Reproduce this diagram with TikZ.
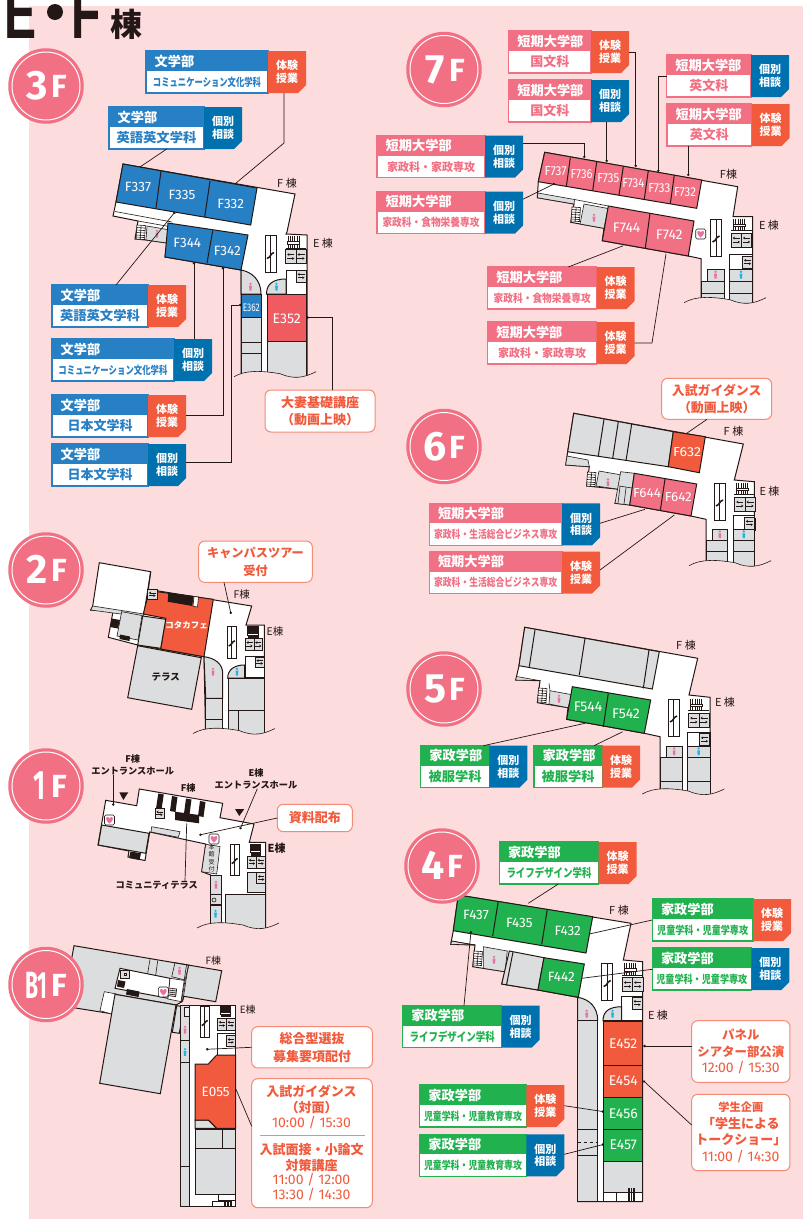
\documentclass[tikz,border=0pt]{standalone}
\usepackage{fontspec}
\usepackage{graphicx}
\usetikzlibrary{arrows.meta}
\setmainfont{Noto Sans CJK JP}
\newfontfamily\din{Fira Sans}
\newfontfamily\tfont{Liberation Sans}
\definecolor{bg}{HTML}{FDDCDE}
\definecolor{ink}{HTML}{231815}
\definecolor{bandB}{HTML}{2880C4}
\definecolor{bandP}{HTML}{F27084}
\definecolor{bandG}{HTML}{22B14F}
\definecolor{tagO}{HTML}{F15A3C}
\definecolor{tagB}{HTML}{0071AF}
\definecolor{rred}{HTML}{EF5B60}
\definecolor{gr}{HTML}{DCDDDE}
\definecolor{wcP}{HTML}{EC6FA2}
\definecolor{wcB}{HTML}{1FB3E6}
\definecolor{cbord}{HTML}{F58A76}
\tikzset{
  wall/.style={draw=ink,line width=1pt,line join=miter},
  thinw/.style={draw=ink,line width=.6pt},
  grayw/.style={wall,fill=gr},
  whitew/.style={wall,fill=white},
  conn/.style={draw=ink,line width=.7pt,-{Circle[length=2.4pt]}},
  connp/.style={draw=ink,line width=.7pt},
  callout/.style={draw=cbord,line width=1pt,fill=white,rounded corners=6pt,inner sep=0pt,outer sep=0pt,text=tagO,align=center},
  roomt/.style={text=white,inner sep=0pt,outer sep=0pt},
  bldg/.style={text=ink,inner sep=0pt,outer sep=0pt,font=\fontsize{11}{11}\selectfont},
  bldgb/.style={text=ink,inner sep=0pt,outer sep=0pt,font=\fontsize{9.2}{12}\selectfont\bfseries,align=center},
  ctext/.style={text=tagO,inner sep=0pt,outer sep=0pt,font=\fontsize{13}{13}\selectfont\bfseries},
  ctime/.style={text=tagO,inner sep=0pt,outer sep=0pt,font=\din\fontsize{14}{14}\selectfont},
}
\newcommand{\Ta}{\def\tagcol{tagO}\def\tagA{体験}\def\tagBB{授業}}
\newcommand{\Ko}{\def\tagcol{tagB}\def\tagA{個別}\def\tagBB{相談}}
\newcommand{\Sb}[3]{\resizebox{#1pt}{\height}{\fontsize{#2}{#2}\selectfont\bfseries #3}}
% name x y xtag xend band title sub
\newcommand{\Lab}[8]{%
  \fill[white] (#2,#3) rectangle (#4,{#3+42});
  \draw[#6,line width=1.2pt] (#2,#3) rectangle (#4,{#3+42});
  \fill[#6] (#2,#3) rectangle (#4,{#3+20});
  \fill[\tagcol] (#4,#3) -- (#5,#3) -- (#5,{#3+34}) -- ({#5-8},{#3+42}) -- (#4,{#3+42}) -- cycle;
  \node[anchor=west,inner sep=0pt,text=white,font=\fontsize{13.2}{13.2}\selectfont\bfseries] (#1t) at ({#2+8.5},{#3+10}) {#7};
  \node[inner sep=0pt,text=#6] (#1s) at ({(#2+#4)/2},{#3+31}) {#8};
  \node[inner sep=0pt,text=white,align=center,font=\fontsize{11}{12.7}\selectfont\bfseries] (#1k) at ({(#4+#5)/2},{#3+21}) {\tagA\\\tagBB};
  \node[inner sep=0pt,outer sep=0pt,minimum width={(#5-#2)*1pt},minimum height=42pt] (#1) at ({(#2+#5)/2},{#3+21}) {};
}
\newcommand{\Pers}[3]{\fill[#3] (#1,{#2-3.2}) circle (1.3);
  \fill[#3] ({#1-1.4},{#2-1.4}) -- ({#1+1.4},{#2-1.4}) -- ({#1+1},{#2+3.5}) -- ({#1-1},{#2+3.5}) -- cycle;}
\newcommand{\EV}[4]{\draw[thinw,fill=gr] (#1,#2) rectangle ({#1+#3},{#2+#4});
  \draw[line width=.8pt,ink,-{Stealth[length=2.2pt,width=2.8pt]}] ({#1+#3*.85},{#2+#4*.36}) -- ({#1+#3*.15},{#2+#4*.36});
  \draw[line width=.8pt,ink,-{Stealth[length=2.2pt,width=2.8pt]}] ({#1+#3*.15},{#2+#4*.64}) -- ({#1+#3*.85},{#2+#4*.64});}
\newcommand{\Core}[3]{\begin{scope}[shift={(#1,#2)},scale=#3]
  \draw[thinw,fill=white] (0,0) rectangle (11,37);
  \draw[thinw] (5.5,0) -- (5.5,37);
  \draw[ink,line width=1.6pt] (2,23) -- (4.5,21.5) -- (6.5,18.5) -- (9,17);
  \EV{20.7}{14}{10.2}{14}\EV{30.9}{14}{10.2}{14}\EV{31}{35}{10}{12}
  \end{scope}}
\newcommand{\Stair}[2]{\begin{scope}[shift={(#1,#2)}]
  \foreach \i in {0,2.2,4.4,6.6,8.8,11}{\draw[thinw] ({23+\i},.5) -- ({23+\i},12);}
  \draw[thinw,fill=white] (22.5,6) rectangle (34.5,8.5);
  \draw[thinw] (20.7,12.5) -- (41,12.5);
  \end{scope}}
\newcommand{\Hatch}[2]{\begin{scope}[shift={(#1,#2)},rotate=-4]
  \draw[thinw,fill=white] (0,0) rectangle (8.5,14);
  \foreach \i in {2.5,5,7.5,10,12}{\draw[thinw] (0,\i) -- (8.5,\i);}
  \draw[thinw] (4.2,0) -- (4.2,14);
  \end{scope}}
\newcommand{\Hrt}[2]{\begin{scope}[shift={(#1,#2)}]
  \draw[thinw,fill=white,rounded corners=1.5pt] (0,0) rectangle (10,10);
  \fill[wcP] (5,8.5) .. controls (1,5.5) and (.8,2) .. (3,2) .. controls (4,2) and (5,3) .. (5,3.5) .. controls (5,3) and (6,2) .. (7,2) .. controls (9.2,2) and (9,5.5) .. (5,8.5) -- cycle;
  \end{scope}}
\newcommand{\Wav}[3]{\begin{scope}[shift={(#1,#2)},xscale=#3]
  \fill[bg] (0,0) .. controls (12,-7) and (28,-6) .. (46,-3) .. controls (60,3) and (70,1) .. (82,-5) -- (90,-5) -- (90,12) -- (-5,12) -- (-5,0) -- cycle;
  \draw[thinw] (0,0) .. controls (12,-7) and (28,-6) .. (46,-3) .. controls (60,3) and (70,1) .. (82,-5);
  \end{scope}}
% a b c d pinkTop pinkBot evTop row bottom
\newcommand{\LowE}[9]{%
  \pgfmathsetmacro{\pxa}{(#1+6+#2)/2}\pgfmathsetmacro{\pxb}{(#3+#4)/2}\pgfmathsetmacro{\pym}{(#5+#6)/2}%
  \draw[whitew] (#3,#7) rectangle (#4,#6);
  \draw[grayw] ({#1+6},#5) rectangle (#2,#6);
  \Pers{\pxa}{\pym}{wcP}
  \draw[grayw] (#1,#6) rectangle (#2,#8);
  \draw[grayw] (#1,#8) rectangle (#2,#9);
  \draw[grayw] (#3,#5) rectangle (#4,#6);
  \Pers{\pxb}{\pym}{wcB}
  \draw[grayw] (#3,#6) rectangle (#4,#8);
  \draw[grayw] (#3,#8) rectangle (#4,#9);
}
\newcommand{\Badge}[6]{%
  \node[circle,fill=bandP,minimum size=75.5pt,inner sep=0pt] (#1) at (#2,#3) {};
  \draw[white,line width=1pt] (#2,#3) circle (34);
  \node[anchor=base,inner sep=0pt,text=white,font=\din\bfseries\fontsize{#6}{#6}\selectfont] (#1d) at ({#2+#5},{#3+13.5}) {#4};
  \node[anchor=base,inner sep=0pt,text=white,font=\din\bfseries\fontsize{32}{32}\selectfont] (#1f) at ({#2+13},{#3+11.5}) {F};
}
\begin{document}
\begin{tikzpicture}[x=1pt,y=-1pt]
\useasboundingbox (0,0) rectangle (803,1219);
\fill[white] (0,0) rectangle (803,1219);
\fill[bg] (29,6) rectangle (803,1219);
% title
\node[anchor=base west,inner sep=0pt,text=ink] (ttlE) at (4.5,38) {\scalebox{.64}[1]{\tfont\bfseries\fontsize{75}{75}\selectfont E}};
\node[anchor=base west,inner sep=0pt,text=ink] (ttlF) at (71,38) {\scalebox{.64}[1]{\tfont\bfseries\fontsize{75}{75}\selectfont F}};
\fill[ink] (55,12) circle (8);
\node[anchor=base,inner sep=0pt,text=ink,font=\fontsize{32}{32}\selectfont\bfseries] (ttlT) at (126,36) {棟};

%% ===== 3F =====
\draw[whitew] (123,164) -- (295,194) -- (287,232) -- (286,234) -- (307,235) -- (307,382) -- (241,382) -- (241,270) -- (165,257) -- (167,243) -- (146,240) -- (135,239) -- (138,221) -- (113,216) -- (116,202) -- cycle;
\draw[thinw] (115,211.5) -- (138,215.7) -- (172,222);
\draw[thinw] (138,221) -- (172,227);
\draw[thinw,fill=gr] (147,226) -- (170,230) -- (167,243) -- (146,240) -- cycle;
\Pers{157}{234}{wcP}
\Hatch{137}{225}
\draw[wall,fill=bandB] (123,164) -- (257,188) -- (250.7,225) -- (116,202) -- cycle;
\draw[wall] (161,171) -- (156,208) (210,181) -- (204.7,217);
\draw[wall,fill=bandB] (168,223) -- (248,235) -- (241,270) -- (165,257) -- cycle;
\draw[wall] (212.7,230.7) -- (207,263);
\Core{265}{235.5}{1}\Stair{265}{235.5}
\draw[thinw,fill=white] (286,270) rectangle (306,294);
\EV{296}{270}{10}{12}
\draw[grayw] (241,270) .. controls (252,272) and (261,280) .. (261,294) -- (241,294) -- cycle;
\Pers{250.5}{287}{wcP}
\draw[grayw] (266.5,294) .. controls (266.5,284) and (273,279) .. (286,279) -- (286,294) -- cycle;
\Pers{276.5}{287}{wcB}
\draw[wall,fill=bandB] (241.5,294.5) rectangle (261,317);
\draw[grayw] (241.5,317) rectangle (261,342);
\draw[grayw] (241.5,342) rectangle (261,353);
\draw[grayw] (241.5,353) rectangle (261,382);
\draw[wall,fill=rred] (267,294) rectangle (306.5,341);
\draw[grayw] (267,341) rectangle (306.5,382);
\Wav{234}{376.7}{1}
\node[bldg] (b3f) at (287,183) {F 棟};
\node[bldg] (b3e) at (323,243) {E 棟};
\node[roomt,font=\din\fontsize{13.5}{13.5}\selectfont] (r337) at (138,186.7) {F337};
\node[roomt,font=\din\fontsize{13.5}{13.5}\selectfont] (r335) at (182,195) {F335};
\node[roomt,font=\din\fontsize{13.5}{13.5}\selectfont] (r332) at (230.7,204) {F332};
\node[roomt,font=\din\fontsize{13.5}{13.5}\selectfont] (r344) at (187.3,243.3) {F344};
\node[roomt,font=\din\fontsize{13.5}{13.5}\selectfont] (r342) at (227.3,250.7) {F342};
\node[roomt] (r362) at (251.3,307.7) {\resizebox{17pt}{\height}{\din\fontsize{11}{11}\selectfont E362}};
\node[roomt,font=\din\fontsize{14}{14}\selectfont] (r352) at (286.7,318.3) {E352};
\Ta\Lab{la}{146}{51}{268}{306}{bandB}{文学部}{\Sb{108}{11}{コミュニケーション文化学科}}
\Ko\Lab{lb}{109}{107}{204}{242}{bandB}{文学部}{\Sb{80}{13}{英語英文学科}}
\Ta\Lab{lc}{52}{285}{148}{186}{bandB}{文学部}{\Sb{80}{13}{英語英文学科}}
\Ko\Lab{ld}{52}{339}{174}{212}{bandB}{文学部}{\Sb{109}{11}{コミュニケーション文化学科}}
\Ta\Lab{le}{52}{395}{148}{186}{bandB}{文学部}{\Sb{65}{13}{日本文学科}}
\Ko\Lab{lf}{52}{444}{148}{186}{bandB}{文学部}{\Sb{65}{13}{日本文学科}}
\node[callout,minimum width=110pt,minimum height=42pt,font=\fontsize{13}{17.7}\selectfont\bfseries] (c352) at (320,411) {大妻基礎講座\\（動画上映）};
\coordinate (p3a) at (235.5,183.5); \coordinate (k3a) at (284,143);
\draw[connp] ([xshift=138pt]la.south west) -- (k3a) -- (p3a);
\coordinate (p3b) at (140,167);
\draw[connp] ([xshift=57.7pt]lb.south west) -- (p3b);
\coordinate (p3c) at (175,212);
\draw[conn] ([xshift=64pt]lc.north west) -- (p3c);
\coordinate (p3d) at (194,262);
\draw[conn] ([xshift=142pt]ld.north west) -- (p3d);
\coordinate (p3e) at (223,267);
\draw[conn] ([yshift=-20pt]le.north east) -| (p3e);
\coordinate (k3f) at (231,305); \coordinate (p3f) at (241.5,305);
\draw[conn] ([yshift=-18pt]lf.north east) -| (k3f) -- (p3f);
\coordinate (p352) at (306.5,317.5);
\draw[conn] ([xshift=12pt]c352.north) |- (p352);
\Badge{bd3}{46}{86}{3}{-9}{41}

%% ===== 7F =====
\draw[whitew] (544.7,152.3) -- (737.7,186.7) -- (733,216.7) -- (752.7,216.7) -- (752.7,308) -- (701,308) -- (701,258.7) -- (688.3,256) -- (602.3,240.7) -- (604,228.3) -- (570.7,222.3) -- (574,204) -- (537.3,197.7) -- (538.3,181.7) -- cycle;
\draw[thinw,fill=gr] (538,193) -- (574.5,199.5) -- (574,204) -- (537.3,197.7) -- cycle;
\draw[thinw] (574.5,199.5) -- (608.3,206);
\draw[thinw,fill=gr] (584,204) -- (608,208.5) -- (604,228.3) -- (580,224) -- cycle;
\Pers{594}{218}{wcP}
\Hatch{572}{207}
\draw[wall,fill=bandP] (544.7,152.3) -- (701.7,180) -- (696.7,208.3) -- (538.3,181.7) -- cycle;
\draw[wall] (570.3,157.7) -- (566.3,186.7) (596.7,161.7) -- (592.7,190.7) (623.3,166.7) -- (619,195) (648.3,170.7) -- (644.3,199) (674.3,175) -- (670.3,203.7);
\draw[wall,fill=bandP] (608.3,206) -- (694,221) -- (688.3,256) -- (602.3,240.7) -- cycle;
\draw[wall] (650,213.3) -- (645.3,248.3);
\Core{710.5}{219}{1}\Stair{710.5}{218}
\Hrt{695.7}{229}
\LowE{701}{724}{729.3}{752.7}{269}{281}{254.3}{293}{308}
\EV{742.5}{256}{10}{12}
\Wav{684}{302.7}{1}
\node[bldg] (b7f) at (728.5,174) {F棟};
\node[bldg] (b7e) at (769,225) {E 棟};
\foreach \nm/\xx/\yy in {F737/555.7/170.7,F736/581.7/174,F735/608.3/177.7,F734/633.3/183.3,F733/659.3/187.7,F732/685/192}{
  \node[roomt] (r\nm) at (\xx,\yy) {\resizebox{22pt}{\height}{\din\fontsize{13}{13}\selectfont\nm}};}
\node[roomt,font=\din\fontsize{14}{14}\selectfont] (rF744) at (626.7,227.3) {F744};
\node[roomt,font=\din\fontsize{14}{14}\selectfont] (rF742) at (669.3,235) {F742};
\Ta\Lab{l7a}{508.7}{31}{591}{629}{bandP}{短期大学部}{\Sb{39}{13}{国文科}}
\Ko\Lab{l7b}{508.7}{80}{591}{629}{bandP}{短期大学部}{\Sb{39}{13}{国文科}}
\Ko\Lab{l7c}{666.7}{55}{751}{789}{bandP}{短期大学部}{\Sb{39}{13}{英文科}}
\Ta\Lab{l7d}{667}{104}{751.7}{789.5}{bandP}{短期大学部}{\Sb{39}{13}{英文科}}
\Ko\Lab{l7e}{377}{135.7}{485}{523}{bandP}{短期大学部}{\Sb{88}{11.5}{家政科・家政専攻}}
\Ko\Lab{l7f}{377}{191.7}{485}{523}{bandP}{短期大学部}{\Sb{97}{11}{家政科・食物栄養専攻}}
\Ta\Lab{l7g}{487.7}{267}{596.7}{634.7}{bandP}{短期大学部}{\Sb{97}{11}{家政科・食物栄養専攻}}
\Ta\Lab{l7h}{487.7}{322}{596.7}{634.7}{bandP}{短期大学部}{\Sb{88}{11.5}{家政科・家政専攻}}
\coordinate (p7a) at (635.7,167);
\draw[conn] ([yshift=-21pt]l7a.north east) -| (p7a);
\coordinate (p7b) at (606.7,162);
\draw[conn] ([xshift=98pt]l7b.south west) -- (p7b);
\coordinate (p7c) at (584.3,158);
\draw[conn] ([yshift=-7.5pt]l7e.north east) -| (p7c);
\coordinate (p7d) at (555,183.5);
\draw[conn] ([yshift=-7.5pt]l7f.north east) -- (p7d);
\coordinate (p7e) at (658.3,172);
\draw[conn] ([yshift=-21pt]l7c.north west) -| (p7e);
\coordinate (p7f) at (688.3,176);
\draw[conn] ([xshift=21.3pt]l7d.south west) -- (p7f);
\coordinate (p7g) at (623.3,245.7);
\draw[connp] ([xshift=80.6pt]l7g.north west) -- (p7g);
\coordinate (k7h) at (652,343); \coordinate (p7h) at (666,254);
\draw[connp] ([yshift=-21pt]l7h.north east) -- (k7h) -- (p7h);
\Badge{bd7}{444}{69.5}{7}{-9}{41}

%% ===== 6F =====
\draw[whitew] (573.7,413.3) -- (743.3,444) -- (734.3,480) -- (754.3,481.7) -- (754.3,572) -- (706,572) -- (706,519.3) -- (691,516) -- (629.7,505) -- (615,503.3) -- (619.3,489.3) -- (586.7,486) -- (589.3,466.7) -- (565.7,465) -- (567.7,451.7) -- cycle;
\draw[thinw,fill=gr] (567,456) -- (588,460) -- (589.3,466.7) -- (565.7,465) -- cycle;
\draw[grayw] (573.7,413.3) -- (673.3,431.7) -- (668.3,466.7) -- (567.7,451.7) -- cycle;
\draw[wall] (604,419.3) -- (598.3,456) (618.3,421.7) -- (612.7,458.3) (631.7,424) -- (626,460.7);
\draw[wall,fill=tagO] (673.3,431.7) -- (705.3,436.7) -- (699.3,472.7) -- (668.3,466.7) -- cycle;
\draw[thinw,fill=gr] (599,471) -- (621.7,475) -- (619.3,489.3) -- (596,486) -- cycle;
\Pers{608}{482.7}{wcP}
\Hatch{587.5}{472}
\draw[thinw,fill=gr] (620.7,471.7) -- (634.3,473.3) -- (629.7,505) -- (615,503.3) -- cycle;
\draw[thinw] (619,486) -- (632,488) (618,503) -- (620,487) (624,504) -- (626,488);
\draw[wall,fill=bandP] (634.3,473.3) -- (696.7,484) -- (691,516) -- (629.7,505) -- cycle;
\draw[wall] (665,479) -- (660.3,510.7);
\Core{714}{483}{1}\Stair{713.5}{482}
\LowE{706}{727.7}{733.3}{754.3}{529.3}{540}{515.7}{551.7}{572}
\EV{744.3}{517}{10}{12}
\Wav{689}{565.7}{1}
\node[bldg] (b6f) at (733.5,431.5) {F 棟};
\node[bldg] (b6e) at (769.5,491) {E 棟};
\node[roomt] (rF632) at (687,452.3) {\resizebox{28pt}{\height}{\din\fontsize{13}{13}\selectfont F632}};
\node[roomt] (rF644) at (647,493.3) {\resizebox{28pt}{\height}{\din\fontsize{13}{13}\selectfont F644}};
\node[roomt] (rF642) at (678.3,497.3) {\resizebox{27pt}{\height}{\din\fontsize{13}{13}\selectfont F642}};
\Ko\Lab{l6a}{429.3}{503.3}{562}{600}{bandP}{短期大学部}{\Sb{123}{11}{家政科・生活総合ビジネス専攻}}
\Ta\Lab{l6b}{429.3}{551.7}{562}{600}{bandP}{短期大学部}{\Sb{123}{11}{家政科・生活総合ビジネス専攻}}
\node[callout,minimum width=110pt,minimum height=41pt,font=\fontsize{12.9}{17.3}\selectfont\bfseries] (c6) at (716.7,398.8) {入試ガイダンス\\（動画上映）};
\coordinate (p6c) at (686.7,433.3);
\draw[connp] ([xshift=45.3pt]c6.south west) -- (p6c);
\coordinate (p6a) at (645,509.3);
\draw[connp] ([yshift=-20pt]l6a.north east) -- (p6a);
\coordinate (p6b) at (674.3,515);
\draw[connp] ([yshift=-18.3pt]l6b.north east) -- (p6b);
\Badge{bd6}{444}{446.5}{6}{-9}{41}

%% ===== 5F =====
\draw[whitew] (524.7,627.3) -- (697.7,658.3) -- (689,695) -- (710,697.3) -- (710,801) -- (660,801) -- (660,736.7) -- (644.3,733.3) -- (566.7,719.3) -- (568,707.7) -- (537.3,702.7) -- (540,680.7) -- (515.7,680) -- (519,665.7) -- cycle;
\draw[thinw,fill=gr] (516.5,676.5) -- (539,680.5) -- (540,680.7) -- (515.7,680) -- cycle;
\draw[grayw] (524.7,627.3) -- (659.3,651.7) -- (652.3,689) -- (519,665.7) -- cycle;
\draw[wall] (535,630) -- (529.3,666.7) (585,638.3) -- (579.3,675) (649,650) -- (643.3,688.3);
\draw[thinw,fill=gr] (550,690.7) -- (572,694.7) -- (568,707.7) -- (549,704) -- cycle;
\draw[thinw] (549,683.3) -- (550,690.7);
\Pers{559}{699}{wcP}
\Hatch{538.5}{688}
\draw[wall,fill=bandG] (572.3,686.7) -- (650.7,700) -- (644.3,733.3) -- (566.7,719.3) -- cycle;
\draw[wall] (608.3,693.3) -- (603.3,726.7);
\Core{668}{699}{1}\Stair{667.5}{698}
\LowE{660}{682.3}{687.3}{710}{746}{757.3}{732.3}{781}{801}
\EV{699.5}{733.5}{10}{12}
\Wav{642.3}{794}{1}
\node[bldg] (b5f) at (686,645.5) {F 棟};
\node[bldg] (b5e) at (725,702) {E 棟};
\node[roomt,font=\din\fontsize{14}{14}\selectfont] (rF544) at (588,706.7) {F544};
\node[roomt,font=\din\fontsize{14}{14}\selectfont] (rF542) at (626,713.3) {F542};
\Ko\Lab{l5a}{420.7}{745.7}{489.3}{527.3}{bandG}{家政学部}{\Sb{53}{13}{被服学科}}
\Ta\Lab{l5b}{534}{745.7}{602.3}{640}{bandG}{家政学部}{\Sb{53}{13}{被服学科}}
\coordinate (p5a) at (585,723.3);
\draw[connp] ([xshift=62.6pt]l5a.north west) -- (p5a);
\coordinate (p5b) at (622.7,731.7);
\draw[connp] ([xshift=60pt]l5b.north west) -- (p5b);
\Badge{bd5}{444}{689}{5}{-9}{41}

%% ===== 4F =====
\draw[whitew] (458.3,895) -- (631,923.3) -- (623.3,960) -- (642.7,961.7) -- (642.7,1201.7) -- (577.7,1201.7) -- (577.7,997.3) -- (538,990) -- (501.7,984) -- (505,971.7) -- (472.7,966.7) -- (475,945) -- (450.7,944.3) -- (453.3,930.7) -- cycle;
\draw[thinw,fill=gr] (452,941) -- (475,945) -- (450.7,944.3) -- cycle;
\draw[thinw] (451.5,941) -- (475,945);
\draw[thinw,fill=gr] (483.3,946.7) -- (507.3,951) -- (505,971.7) -- (483.3,968.3) -- cycle;
\Pers{494}{960}{wcP}
\Hatch{474}{951}
\draw[grayw] (509.3,951) -- (544,957.7) -- (538,990) -- (501.7,984) -- cycle;
\draw[wall] (513,952) -- (506.5,985);
\draw[wall,fill=bandG] (458.3,895) -- (592.7,916.7) -- (586,953) -- (453.3,930.7) -- cycle;
\draw[wall] (498.3,901) -- (492.7,936) (547.3,909.3) -- (541.7,944.3);
\draw[wall,fill=bandG] (544,957.7) -- (584.3,964) -- (578.3,997.3) -- (538,990) -- cycle;
\Core{601.7}{963.5}{1}\Stair{601.5}{962.5}
\draw[thinw,fill=white] (621.7,996) rectangle (642.7,1020.5);
\EV{632}{997}{10}{12}
\draw[grayw] (577.7,997.3) .. controls (589,999) and (597.7,1007) .. (597.7,1020.5) -- (577.7,1020.5) -- cycle;
\Pers{586.7}{1014}{wcP}
\draw[grayw] (603,1020.5) .. controls (603,1011) and (610,1006.7) .. (621.7,1006.7) -- (621.7,1020.5) -- cycle;
\Pers{612.5}{1014}{wcB}
\draw[grayw] (577.7,1020.5) rectangle (597.7,1129);
\draw[grayw] (577.7,1129) rectangle (597.7,1155);
\draw[thinw,dashed] (577.7,1142) -- (597.7,1142);
\draw[grayw] (577.7,1155) rectangle (597.7,1201.7);
\draw[wall,fill=tagO] (603,1021) rectangle (642.7,1065.7);
\draw[wall,fill=tagO] (603,1065.7) rectangle (642.7,1097.7);
\draw[wall,fill=bandG] (603,1097.7) rectangle (642.7,1129.3);
\draw[wall,fill=bandG] (603,1129.3) rectangle (642.7,1161);
\draw[grayw] (603,1161) rectangle (642.7,1192);
\draw[wall] (603,1192) rectangle (642.7,1201.7);
\draw[wall] (616,1192) -- (616,1201.7);
\foreach \i in {0,1.6,3.2,4.8,6.4}{\draw[thinw] ({628+\i},1188) -- ({628+\i},1201);}
\node[bldg] (b4f) at (619,910.5) {F 棟};
\node[bldg] (b4e) at (658,1015.7) {E 棟};
\node[roomt,font=\din\fontsize{13.5}{13.5}\selectfont] (rF437) at (476,915) {F437};
\node[roomt,font=\din\fontsize{13.5}{13.5}\selectfont] (rF435) at (519.3,923) {F435};
\node[roomt,font=\din\fontsize{13.5}{13.5}\selectfont] (rF432) at (567.7,931) {F432};
\node[roomt,font=\din\fontsize{13.5}{13.5}\selectfont] (rF442) at (561.3,977.3) {F442};
\node[roomt,font=\din\fontsize{14}{14}\selectfont] (rE452) at (623.3,1043.3) {E452};
\node[roomt,font=\din\fontsize{14}{14}\selectfont] (rE454) at (623.3,1081) {E454};
\node[roomt,font=\din\fontsize{14}{14}\selectfont] (rE456) at (623.3,1113.3) {E456};
\node[roomt,font=\din\fontsize{14}{14}\selectfont] (rE457) at (623.3,1145) {E457};
\Ta\Lab{l4a}{499.3}{842}{598.7}{636.7}{bandG}{家政学部}{\Sb{85}{12}{ライフデザイン学科}}
\Ta\Lab{l4b}{652.3}{899}{753}{791}{bandG}{家政学部}{\Sb{91}{11}{児童学科・児童学専攻}}
\Ko\Lab{l4c}{652.3}{948}{751.3}{789.3}{bandG}{家政学部}{\Sb{91}{11}{児童学科・児童学専攻}}
\Ko\Lab{l4d}{402.7}{1005.7}{501.7}{539.7}{bandG}{家政学部}{\Sb{85}{12}{ライフデザイン学科}}
\Ta\Lab{l4e}{419.7}{1085}{526.3}{564.3}{bandG}{家政学部}{\Sb{98}{11}{児童学科・児童教育専攻}}
\Ko\Lab{l4f}{419.7}{1134.3}{526.3}{564.3}{bandG}{家政学部}{\Sb{98}{11}{児童学科・児童教育専攻}}
\node[callout,minimum width=98.3pt,minimum height=61.6pt,font=\fontsize{12.4}{16.8}\selectfont\bfseries] (c4a) at (740.8,1051.5) {パネル\\シアター部公演\\{\din\mdseries\fontsize{14}{14}\selectfont 12:00 / 15:30}};
\node[callout,minimum width=98.3pt,minimum height=76.4pt,font=\fontsize{13}{16.7}\selectfont\bfseries] (c4b) at (740.8,1132.5) {{\fontsize{11.2}{11.2}\selectfont 学生企画}\\「学生による\\トークショー」\\{\din\mdseries\fontsize{14}{14}\selectfont 11:00 / 14:30}};
\coordinate (p4a) at (528.3,903.3);
\draw[connp] ([xshift=59pt]l4a.south west) -- (p4a);
\coordinate (p4b) at (589.3,934);
\draw[connp] ([yshift=-21pt]l4b.north west) -- (p4b);
\coordinate (p4c) at (581.7,978.3);
\draw[connp] ([yshift=-21.3pt]l4c.north west) -- (p4c);
\coordinate (p4d) at (471,931);
\draw[conn] ([xshift=61.3pt]l4d.north west) -- (p4d);
\coordinate (p4e) at (604,1111.7);
\draw[conn] ([yshift=-20.7pt]l4e.north east) -- (p4e);
\coordinate (p4f) at (604,1144.3);
\draw[conn] ([yshift=-20pt]l4f.north east) -- (p4f);
\coordinate (p4g) at (643.3,1046);
\draw[conn] (c4a.west |- p4g) -- (p4g);
\coordinate (p4h) at (643.3,1080.7);
\draw[conn] ([yshift=-30.7pt]c4b.north west) -- (p4h);
\Badge{bd4}{442}{866}{4}{-9}{41}

%% ===== 2F =====
\draw[whitew] (99.3,562.7) -- (150.7,571.7) -- (148.3,589.3) -- (251.7,606) -- (246,625) -- (264.3,625) -- (264.3,741) -- (205.7,741) -- (204,656.7) -- (137.7,645) -- (108.3,637.3) -- (113.3,610) -- (90.7,610) -- (92.7,606) -- cycle;
\draw[thinw,fill=gr] (92.7,606) -- (144,614) -- (143.3,617) -- (90.7,610) -- cycle;
\draw[wall] (150.7,571.7) -- (144,613.5);
\draw[wall,fill=tagO] (157.3,591.7) -- (213.3,599.3) -- (204,656.7) -- (160.7,649) -- (165.7,618.3) -- (143.3,614) -- (147.3,598.3) -- (156.7,599.3) -- cycle;
\EV{147.5}{589.5}{9.5}{9.5}
\fill[ink] (168.3,592.7) -- (193.3,596) -- (192.3,606) -- (167.7,601.7) -- cycle;
\draw[thinw,fill=white] (194,596.5) -- (198.5,597) -- (197.5,607) -- (193,606.2) -- cycle;
\draw[grayw] (142.7,616) -- (165.7,619.3) -- (160.7,648.3) -- (137.7,645) -- cycle;
\draw[thinw,fill=gr] (121.7,611.7) -- (142,615.5) -- (138,640) -- (117,636) -- cycle;
\fill[ink] (111.7,618.5) -- (120,620) -- (118,628.5) -- (110,627) -- cycle;
\fill[ink] (120,634.5) -- (130,636.5) -- (129.5,641) -- (119.5,639) -- cycle;
\draw[grayw] (137.7,645.7) -- (201.3,657.7) -- (191.7,709.3) -- (127.7,697.7) -- cycle;
\Core{227}{626}{.87}
\fill[ink] (247,625.7) rectangle (258.5,633);
\fill[ink] (248,635.5) rectangle (258.5,638.5);
\draw[thinw,fill=white] (247,633) rectangle (258.5,635.5);
\draw[thinw,fill=white] (245,656.7) rectangle (264.3,677.7);
\EV{255}{657}{9.3}{10}
\draw[grayw] (204,656.7) .. controls (215,658) and (222.7,664) .. (222.7,673.3) -- (222.7,698.3) -- (205.7,698.3) -- cycle;
\Pers{213}{672}{wcP}
\draw[grayw] (205.7,698.3) rectangle (222.7,719);
\draw[grayw] (205.7,719) rectangle (222.7,741);
\draw[grayw] (227.7,678) .. controls (227.7,670) and (234,665) .. (244.5,665) -- (244.5,678) -- cycle;
\Pers{237}{672}{wcB}
\draw[grayw] (228.3,678.3) rectangle (264.3,710);
\draw[grayw] (228.3,710) rectangle (238.3,741);
\draw[grayw] (238.3,710) rectangle (264.3,741);
\Wav{193}{733.5}{1}
\node[text=white,inner sep=0pt,font=\fontsize{8.5}{8.5}\selectfont\bfseries] (t2c) at (186.7,625.7) {コタカフェ};
\node[text=ink,inner sep=0pt,font=\fontsize{9.5}{9.5}\selectfont\bfseries] (t2t) at (165.7,676.7) {テラス};
\node[bldg,font=\fontsize{10.5}{10.5}\selectfont] (b2f) at (241.7,595) {F棟};
\node[bldg,font=\fontsize{10.5}{10.5}\selectfont] (b2e) at (275,631) {E棟};
\node[callout,minimum width=113.6pt,minimum height=41.3pt,font=\fontsize{12.2}{18}\selectfont\bfseries] (c2) at (255.5,561.7) {キャンパスツアー\\受付};
\coordinate (p2) at (231,614);
\draw[conn] ([xshift=25.3pt]c2.south west) -- (p2);
\Badge{bd2}{46}{570}{2}{-9}{41}

%% ===== 1F =====
\draw[whitew] (105.7,800.3) -- (136.7,805.7) -- (139.3,789) -- (222.7,803.3) -- (220,817.7) -- (254,824) -- (249.3,842.3) -- (265.7,842.3) -- (265.7,936) -- (210.7,936) -- (210.7,875) -- (201.7,871.7) -- (205.7,844) -- (149.7,832) -- (145,860.5) -- (128,857) -- (129,851) -- (98,845) -- cycle;
\draw[grayw] (101.7,825) -- (149,833.3) -- (145.7,853.3) -- (98.3,845) -- cycle;
\fill[ink] (130.5,851.5) -- (141,853.3) -- (139.5,860) -- (129,858) -- cycle;
\foreach \xa/\ya/\xb/\yb in {158.3/793.5/156/808.5,172/796/170/811,186/798.5/184/813.5,200/801/198/816}{
  \fill[ink] (\xa,\ya) -- ({\xa+5.5},{\ya+1}) -- ({\xb+5.5},{\yb+1}) -- (\xb,\yb) -- cycle;}
\fill[ink] (175,811.7) -- (199,815) -- (199,823.3) -- (175,820) -- cycle;
\draw[thinw,fill=gr] (151.7,826.7) -- (180,831.7) -- (178.3,837.3) -- (151,832) -- cycle;
\EV{155}{808.3}{9}{10}
\Hrt{104.5}{815}
\Hrt{209}{834}
\draw[thinw,fill=gr] (205.7,844.3) -- (220,846.5) -- (216.7,874) -- (201.7,871.7) -- cycle;
\node[inner sep=0pt,text=ink,align=center,font=\fontsize{6}{7.2}\selectfont] (t1u) at (211.7,858.3) {本\\館\\受\\付};
\Core{230}{844}{.85}
\fill[ink] (250,844) rectangle (260.5,850.5);
\fill[ink] (251,852.5) rectangle (260.5,856);
\draw[thinw,fill=white] (250,850.5) rectangle (260.5,852.5);
\draw[thinw,fill=gr] (247.7,872.3) rectangle (265.7,892.7);
\EV{256.7}{872.7}{9}{10.5}
\draw[grayw] (210.7,875) rectangle (221,894);\Pers{216}{885}{wcP}
\draw[grayw] (210.7,894.5) rectangle (221,904);
\draw[grayw] (210.7,905) rectangle (221,936);\Pers{215.5}{914}{wcB}
\draw[thinw] (214,900) circle (2);
\draw[grayw] (225,894) rectangle (265.7,936);
\Wav{197}{928}{1}
\fill[ink] (119.3,792.3) -- (128.3,792.3) -- (123.3,800) -- cycle;
\fill[ink] (235,809) -- (244.3,809) -- (239.3,816) -- cycle;
\node[bldgb] (t1a) at (132.7,765) {F棟\\エントランスホール};
\node[bldgb] (t1b) at (188.3,788.3) {F棟};
\node[bldgb] (t1c) at (256,778.5) {E棟\\エントランスホール};
\node[bldgb] (t1d) at (156.7,885) {コミュニティテラス};
\node[bldgb,font=\fontsize{11}{11}\selectfont\bfseries] (t1e) at (276.7,848.3) {E棟};
\node[callout,minimum width=75pt,minimum height=27.4pt,font=\fontsize{13}{13}\selectfont\bfseries] (c1) at (314.8,818) {資料配布};
\coordinate (p1a) at (113.3,805.7);
\draw[conn] ([xshift=-19.4pt]t1a.south) -- (p1a);
\coordinate (p1b) at (240,829.3);
\draw[conn] ([xshift=1.3pt]t1c.south) -- (p1b);
\coordinate (p1c) at (186.7,823.3);
\draw[connp] ([xshift=28.3pt]t1d.north) -- (p1c);
\coordinate (p1d) at (199.3,835);
\draw[conn] (c1.west) -- (p1d);
\Badge{bd1}{46}{786}{\resizebox{12pt}{\height}{1}}{-7}{41}

%% ===== B1F =====
\draw[grayw] (74,945.7) -- (221.7,970.7) -- (215.7,1001.7) -- (184,996.3) -- (182,1001.7) -- (176,1005) -- (115,994.3) -- (113.3,1014) -- (63,1006) -- cycle;
\draw[whitew] (120,968.3) -- (170,978.3) -- (168.3,998.3) -- (115,988.3) -- cycle;
\draw[thinw,fill=white] (170,978.3) -- (185,980.5) -- (181.5,1001.7) -- (168,999) -- cycle;
\draw[thinw,fill=white] (104.3,991.7) -- (116.5,994) -- (111.7,1014) -- (100,1010.7) -- cycle;
\draw[thinw] (150,959.3) -- (147.7,973.3) (157.7,960.7) -- (155.7,975) (175,962.7) -- (171.7,976.7);
\draw[thinw] (188.3,965) -- (182.7,1001.7) (186.5,965) -- (181,1001.5);
\draw[thinw] (175,962.7) -- (189,965) -- (185,980) -- (171.7,976.7);
\Pers{179.5}{971}{wcP}
\fill[ink] (118,980) -- (125.5,981.5) -- (124,988) -- (117,986.5) -- cycle;
\fill[ink] (127,989) -- (139.5,991.5) -- (138.5,997) -- (126,994.5) -- cycle;
\draw[thinw,fill=gr] (120.7,970) rectangle (129,978.3);
\draw[thinw] (124,973) rectangle (126,975);
\Hrt{158.3}{987}
\draw[thinw,fill=gr] (168.8,988) -- (176.7,989) -- (175.5,996.7) -- (168,995.5) -- cycle;
\foreach \i in {990,992,994}{\draw[thinw] (168.5,\i) -- (176.5,{\i+1});}
\draw[grayw] (115,994.3) -- (176,1005) -- (160.3,1093.7) -- (99.7,1083.3) -- cycle;
\draw[grayw] (176.7,1005.7) -- (184,1006.7) -- (179.3,1033.3) -- (172.3,1032.3) -- cycle;
\draw[whitew] (180,1005) rectangle (235.7,1206.7);
\draw[grayw] (180,1005) rectangle (189.5,1040);
\draw[thinw,fill=gr!50!white] (184.5,1007) rectangle (189.5,1016);
\Pers{185}{1030}{wcP}
\draw[grayw] (180,1040) rectangle (189.5,1062.7);
\Pers{185}{1052.3}{wcB}
\draw[grayw] (180,1062.7) rectangle (189.5,1166.7);
\draw[grayw] (180,1166.7) rectangle (189.5,1206.7);
\Core{200}{1006}{.85}
\fill[ink] (220,1006) rectangle (230.7,1012);
\fill[ink] (221,1014) rectangle (230.7,1017);
\draw[thinw,fill=white] (220,1012) rectangle (230.7,1014);
\draw[wall] (217,1055) -- (217,1033.3) -- (235.7,1033.3);
\draw[grayw] (195,1120) -- (208.3,1120) -- (216.7,1128.3) -- (195,1128.3) -- cycle;
\draw[wall,fill=tagO] (216.7,1055) -- (235.7,1055) -- (235.7,1128.3) -- (216.7,1128.3) -- (208.3,1120) -- (195,1120) -- (195,1064) -- (208.3,1064) -- cycle;
\draw[grayw] (195,1129.3) rectangle (222.7,1148.3);
\draw[grayw] (222.7,1129.3) rectangle (235.7,1148.3);
\draw[grayw] (195,1148.3) rectangle (235.7,1194.3);
\draw[wall] (218.3,1194.3) -- (218.3,1200.5) -- (235.7,1200.5);
\draw[thinw,fill=white] (212.5,1201) rectangle (231,1206.7);
\foreach \i in {224,225.5,227,228.5,230}{\draw[thinw] (\i,1201) -- (\i,1206.7);}
\draw[wall] (180,1005) rectangle (235.7,1206.7);
\node[roomt,font=\din\fontsize{13.5}{13.5}\selectfont] (rE055) at (215.7,1091.7) {E055};
\node[bldg,font=\fontsize{10}{10}\selectfont] (b0f) at (213.3,961) {F棟};
\node[bldg,font=\fontsize{10}{10}\selectfont] (b0e) at (247.7,1009.3) {E棟};
\node[callout,minimum width=120.6pt,minimum height=41.3pt,font=\fontsize{13}{17.7}\selectfont\bfseries] (c0a) at (312,1047.3) {総合型選抜\\募集要項配付};
\node[callout,minimum width=120.6pt,minimum height=129pt] (c0b) at (312,1143.2) {};
\node[ctext] (t0a) at (311.5,1091) {入試ガイダンス};
\node[ctext] (t0b) at (311.5,1107.3) {（対面）};
\node[ctime] (t0c) at (311.5,1122.7) {10:00 / 15:30};
\coordinate (s0a) at (260,1135); \coordinate (s0b) at (365,1135);
\draw[cbord,line width=1pt] (s0a) -- (s0b);
\node[ctext] (t0d) at (311.5,1150) {入試面接・小論文};
\node[ctext] (t0e) at (311.5,1165.7) {対策講座};
\node[ctime] (t0f) at (311.5,1180) {11:00 / 12:00};
\node[ctime] (t0g) at (311.5,1195) {13:30 / 14:30};
\coordinate (p0a) at (206,1049.3);
\draw[conn] (c0a.west) -- (p0a);
\coordinate (p0b) at (236,1089.3);
\draw[connp] ([yshift=-47.5pt]c0b.north west) -- (p0b);
\Badge{bd0}{46}{984.5}{\resizebox{22pt}{\height}{B1}}{-10}{38}
\end{tikzpicture}
\end{document}
